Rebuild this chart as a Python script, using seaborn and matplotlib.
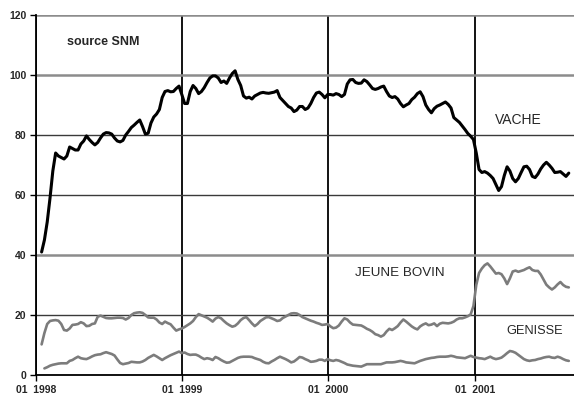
import numpy as np
import pandas as pd
import matplotlib
matplotlib.use("Agg")
import matplotlib.pyplot as plt
import seaborn as sns

# weekly index (weeks since 1998-01-01), first observation = week 2
start_week = 2

vache = [41, 45, 51, 59, 68, 74, 73, 72.5, 72, 73, 76, 75.5, 75, 75, 77, 78, 79.7, 78.5, 77.5,
         76.7, 77.5, 79, 80.3, 80.8, 80.7, 80.3, 79, 78, 77.7, 78.2, 80, 81.2, 82.5, 83.3, 84.2,
         85, 82.8, 80.3, 80.6, 84, 86, 87, 88.5, 92.5, 94.5, 94.8, 94.4, 94.5, 95.5, 96.3, 93.5,
         90.5, 90.5, 94.5, 96.5, 95.5, 93.8, 94.5, 95.8, 97.5, 99, 99.7, 99.7, 99, 97.5, 98, 97.2,
         99, 100.5, 101.4, 98.5, 96.5, 93, 92.3, 92.6, 92, 93, 93.5, 94, 94.2, 94, 93.9, 94.1,
         94.3, 94.8, 92.5, 91.5, 90.5, 89.5, 89, 87.8, 88.3, 89.5, 89.5, 88.5, 89, 90.5, 92.5, 94,
         94.3, 93.5, 92.4, 93.5, 93.5, 93.3, 93.8, 93.5, 92.8, 93.5, 97, 98.4, 98.5, 97.5, 97.2,
         97.3, 98.4, 97.8, 96.7, 95.5, 95.2, 95.5, 96, 96.3, 94.5, 93, 92.5, 92.8, 92, 90.5, 89.4,
         90, 90.5, 91.8, 92.6, 93.8, 94.4, 92.8, 90, 88.5, 87.4, 88.8, 89.6, 90, 90.5, 91, 90.2,
         89, 85.8, 85, 84.2, 83, 81.8, 80.5, 79.6, 78.5, 74, 68.5, 67.5, 67.8, 67.3, 66.5, 65.5,
         63.5, 61.5, 62.8, 66.5, 69.4, 68, 65.5, 64.4, 65.5, 67.5, 69.4, 69.6, 68.5, 66.2, 65.8,
         67, 68.7, 70, 70.9, 70, 68.9, 67.5, 67.6, 67.8, 67, 66.2, 67.3]

jeune_bovin = [10.2, 14, 17, 18, 18.2, 18.3, 18.1, 17, 15, 14.8, 15.5, 16.7, 16.8, 17, 17.6, 17.2,
               16.3, 16.4, 17, 17.2, 19.4, 19.8, 19.4, 19, 18.9, 18.9, 19, 19.1, 19.1, 19, 18.5,
               19, 20, 20.6, 20.8, 20.9, 20.7, 20, 19.2, 19.1, 19.1, 18.5, 17.5, 17, 17.8, 17.3,
               16.9, 15.8, 14.8, 15.2, 15.5, 16, 16.6, 17.2, 18, 19.3, 20.3, 19.9, 19.5, 19.1,
               18.5, 17.8, 18.8, 19.3, 18.9, 18, 17.2, 16.6, 16.1, 16.4, 17.2, 18.3, 19, 19.3,
               18.3, 17.2, 16.3, 17, 18, 18.6, 19.2, 19.3, 18.9, 18.5, 18, 18.2, 19, 19.5, 20,
               20.5, 20.6, 20.5, 20, 19.3, 18.9, 18.5, 18.1, 17.8, 17.4, 17.1, 16.7, 16.8, 17,
               16.2, 15.6, 15.8, 16.5, 17.8, 18.9, 18.5, 17.5, 16.8, 16.7, 16.6, 16.5, 16, 15.4,
               15, 14.4, 13.6, 13.3, 12.8, 13.3, 14.5, 15.4, 15, 15.6, 16.3, 17.5, 18.5, 17.8, 17,
               16.2, 15.6, 15.2, 16.2, 16.8, 17.2, 16.6, 16.8, 17.2, 16.3, 17.1, 17.4, 17.3, 17.2,
               17.4, 17.8, 18.5, 18.9, 18.9, 19.2, 19.6, 20.2, 23, 30, 34, 35.5, 36.6, 37.2, 36.2,
               35, 33.8, 34, 33.6, 32.2, 30.3, 32.2, 34.5, 34.8, 34.4, 34.7, 35, 35.5, 35.9, 35,
               34.7, 34.7, 33.5, 31.8, 30.1, 29.2, 28.5, 29.2, 30.2, 31, 30, 29.4, 29.2]

genisse = [np.nan, 2.2, 2.6, 3.1, 3.4, 3.6, 3.8, 3.9, 3.9, 3.9, 4.7, 5, 5.6, 6.1, 5.6, 5.4, 5.3,
           5.7, 6.2, 6.6, 6.8, 6.9, 7.3, 7.6, 7.3, 7, 6.5, 5.2, 4, 3.6, 3.8, 4, 4.4, 4.3, 4.2,
           4.2, 4.5, 5, 5.7, 6.2, 6.7, 6.2, 5.6, 5, 5.6, 6.1, 6.6, 7, 7.4, 7.8, 7.3, 7.5, 7,
           6.7, 6.8, 6.8, 6.4, 5.8, 5.3, 5.6, 5.4, 5, 6, 5.6, 5, 4.5, 4.1, 4.2, 4.7, 5.2, 5.7,
           6, 6.1, 6.1, 6.1, 6, 5.6, 5.3, 5, 4.4, 4, 3.9, 4.5, 5, 5.6, 6.1, 5.7, 5.3, 4.8, 4.2,
           4.5, 5.2, 6, 5.8, 5.3, 4.9, 4.4, 4.5, 4.7, 5.1, 5.1, 4.7, 5.3, 4.9, 4.7, 5, 4.8, 4.4,
           4, 3.5, 3.3, 3.1, 3, 2.9, 2.8, 3.2, 3.6, 3.6, 3.6, 3.6, 3.6, 3.6, 3.9, 4.2, 4.2, 4.2,
           4.3, 4.5, 4.7, 4.5, 4.2, 4.1, 4, 3.9, 4.3, 4.7, 5, 5.3, 5.5, 5.7, 5.8, 6, 6.1, 6.1,
           6.1, 6.2, 6.4, 6.2, 5.9, 5.8, 5.7, 5.6, 6, 6.4, 6, 5.8, 5.6, 5.5, 5.3, 5.7, 6.1, 5.6,
           5.3, 5.5, 5.8, 6.5, 7.3, 8, 7.8, 7.4, 6.7, 6, 5.3, 4.9, 4.7, 4.9, 5, 5.3, 5.5, 5.8,
           6, 6.1, 5.8, 5.7, 6.1, 5.8, 5.3, 4.9, 4.7]

year_ticks = ["1998-01-01", "1999-01-01", "2000-01-01", "2001-01-01"]
year_labels = ["01  1998", "01  1999", "01  2000", "01  2001"]
y_ticks = [0, 20, 40, 60, 80, 100, 120]

n = len(vache)
dates = pd.Timestamp("1998-01-01") + pd.to_timedelta(7 * (start_week + np.arange(n)), unit="D")
df = pd.DataFrame({"date": dates, "VACHE": vache,
                   "JEUNE BOVIN": jeune_bovin[:n], "GENISSE": genisse[:n]})

sns.set_style("white")
plt.rcParams["font.family"] = ["Liberation Sans", "DejaVu Sans"]

fig = plt.figure(figsize=(5.74, 3.96), dpi=100)
ax = fig.add_axes([36 / 574, 21 / 396, 538 / 574, 360 / 396])

sns.lineplot(data=df, x="date", y="GENISSE", ax=ax, color="#7c7c7c", linewidth=1.9)
sns.lineplot(data=df, x="date", y="JEUNE BOVIN", ax=ax, color="#7c7c7c", linewidth=1.9)
sns.lineplot(data=df, x="date", y="VACHE", ax=ax, color="black", linewidth=2.2)

ax.set_xlim(pd.Timestamp("1998-01-01"), pd.Timestamp("2001-09-05"))
ax.set_ylim(0, 120)
ax.set_xlabel("")
ax.set_ylabel("")

ax.set_xticks(pd.to_datetime(year_ticks))
ax.set_xticklabels(year_labels, fontsize=7.5, fontweight="bold")
ax.set_yticks(y_ticks)
ax.set_yticklabels([str(v) for v in y_ticks], fontsize=7.5, fontweight="bold")
ax.tick_params(axis="both", direction="out", length=4, width=1, color="black",
               bottom=True, left=True)
ax.tick_params(axis="x", pad=3)
ax.tick_params(axis="y", pad=3)

ax.grid(True, axis="both")
for gl in ax.get_xgridlines():
    gl.set_color("black")
    gl.set_linewidth(1.3)
for gl, v in zip(ax.get_ygridlines(), y_ticks):
    if v in (40, 100, 120):
        gl.set_color("#8c8c8c")
        gl.set_linewidth(1.8)
    else:
        gl.set_color("#3a3a3a")
        gl.set_linewidth(1.0)
ax.set_axisbelow(True)

for s in ["top", "right"]:
    ax.spines[s].set_visible(False)
for s in ["left", "bottom"]:
    ax.spines[s].set_color("black")
    ax.spines[s].set_linewidth(1.3)

ax.text(0.0576, 0.925, "source SNM", transform=ax.transAxes, fontsize=9,
        fontweight="bold", va="center", ha="left")
ax.text(0.853, 0.708, "VACHE", transform=ax.transAxes, fontsize=10,
        va="center", ha="left")
ax.text(0.593, 0.283, "JEUNE BOVIN", transform=ax.transAxes, fontsize=9.6,
        va="center", ha="left")
ax.text(0.874, 0.122, "GENISSE", transform=ax.transAxes, fontsize=9.2,
        va="center", ha="left")

fig.savefig("out.png", dpi=100)
